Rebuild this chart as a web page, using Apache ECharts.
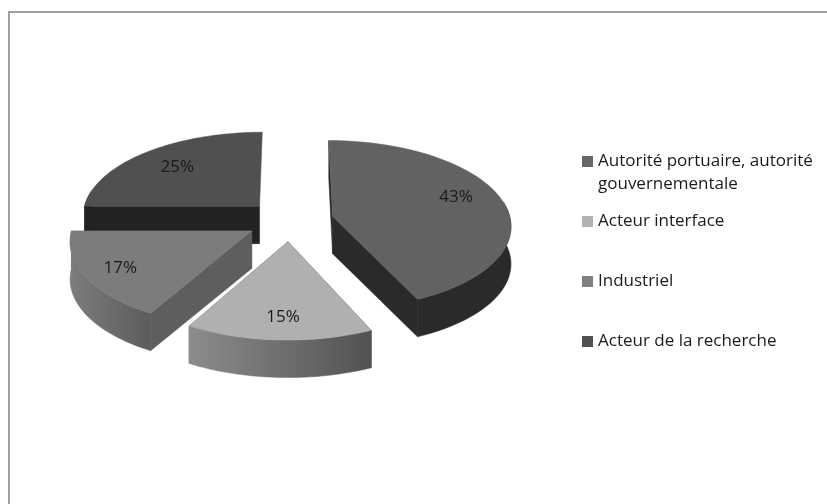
<!DOCTYPE html>
<html>
<head>
<meta charset="utf-8">
<style>
html, body { margin: 0; padding: 0; background: #fff; }
#chart { width: 827px; height: 504px; }
</style>
<script src="https://cdn.jsdelivr.net/npm/echarts@6/dist/echarts.min.js"></script>
</head>
<body>
<div id="chart"></div>
<script>
// donnees du graphique
const categories = ['Autorité portuaire, autorité\ngouvernementale', 'Acteur interface', 'Industriel', 'Acteur de la recherche'];
const values = [43.2, 15, 16.8, 25];
const topColors = ['#626262', '#b0b0b0', '#7c7c7c', '#505050'];
const legendColors = ['#666666', '#b2b2b2', '#808080', '#505050'];

// projection du camembert 3D
const cx = 290, cy = 220.5;   // centre
const radiusX = 178, radiusY = 84, depth = 10;
const explode = 0.246;
const wallHeight = 37.5;
const labelFrac = [0.74, 0.78, 0.8, 0.72];
const labelNudge = [[-2, -6], [2, 1], [0, 1], [1, 0]];

const total = values.reduce((a, b) => a + b, 0);

function project(x, y) {
    const s = 1 / (1 + y / depth);
    return [cx + x * radiusX * s, cy - y * radiusY * s];
}

function drop(p) {
    return [p[0], p[1] + wallHeight];
}

function hGradient(left, right) {
    return new echarts.graphic.LinearGradient(0, 0, 1, 0, [
        { offset: 0, color: left },
        { offset: 1, color: right }
    ]);
}

// couleurs des parois : radiales et arc
const wallStyles = [
    { radial: () => '#2a2a2a', arc: () => '#2a2a2a' },
    { radial: () => '#555555', arc: () => hGradient('#8c8c8c', '#525252') },
    { radial: () => '#5e5e5e', arc: () => hGradient('#7c7c7c', '#5c5c5c') },
    { radial: () => '#222222', arc: () => '#222222' }
];

function renderSlice(index) {
    return function (params, api) {
        const value = api.value(0);
        let before = 0;
        for (let i = 0; i < index; i++) before += values[i];
        const a0 = before / total * Math.PI * 2;
        const a1 = (before + value) / total * Math.PI * 2;
        const mid = (a0 + a1) / 2;
        const ox = Math.sin(mid) * explode;
        const oy = Math.cos(mid) * explode;

        const apex = project(ox, oy);
        const arc = [];
        const frontArc = [];   // seule la partie avant de l'arc a une paroi visible
        const steps = 60;
        for (let i = 0; i <= steps; i++) {
            const a = a0 + (a1 - a0) * i / steps;
            const p = project(ox + Math.sin(a), oy + Math.cos(a));
            arc.push(p);
            if (Math.cos(a) < 0.2) frontArc.push(p);
        }
        const first = arc[0];
        const last = arc[arc.length - 1];
        const wall = wallStyles[index];
        const f = labelFrac[index];
        const lp = project(ox + Math.sin(mid) * f, oy + Math.cos(mid) * f);

        const poly = (points, fill) => ({
            type: 'polygon',
            shape: { points: points },
            style: { fill: fill, stroke: fill, lineWidth: 0.5 }
        });

        const children = [poly([apex, first, drop(first), drop(apex)], wall.radial())];
        // la paroi a 360 degres ne se voit pas sur l'original
        if (index < values.length - 1) {
            children.push(poly([apex, last, drop(last), drop(apex)], wall.radial()));
        }
        if (frontArc.length > 1) {
            children.push(poly(frontArc.concat(frontArc.slice().reverse().map(drop)), wall.arc()));
        }
        children.push(poly([apex].concat(arc), topColors[index]));
        children.push({
            type: 'text',
            style: {
                x: lp[0] + labelNudge[index][0],
                y: lp[1] + labelNudge[index][1],
                text: Math.round(value / total * 100) + '%',
                fill: '#1a1a1a',
                font: '17px "Open Sans"',
                align: 'center',
                verticalAlign: 'middle'
            }
        });

        return { type: 'group', children: children };
    };
}

// ordre de dessin : du fond vers l'avant
const drawOrder = [3, 0, 2, 1];

const chart = echarts.init(document.getElementById('chart'), null, { renderer: 'canvas' });

chart.setOption({
    animation: false,
    backgroundColor: '#ffffff',
    legend: {
        orient: 'vertical',
        left: 577,
        top: 122,
        itemGap: -9,
        itemWidth: 11,
        itemHeight: 11,
        icon: 'rect',
        selectedMode: false,
        data: categories,
        formatter: (name) => {
            const lines = name.split('\n');
            return '\u00a0\n' + lines[0] + '\n' + (lines[1] || '\u00a0');
        },
        textStyle: {
            color: '#1a1a1a',
            fontFamily: 'Open Sans',
            fontSize: 17,
            lineHeight: 23
        }
    },
    graphic: [
        { type: 'line', silent: true, shape: { x1: 8, y1: 12, x2: 827, y2: 12 }, style: { stroke: '#a0a0a0', lineWidth: 2 } },
        { type: 'line', silent: true, shape: { x1: 9, y1: 12, x2: 9, y2: 504 }, style: { stroke: '#a0a0a0', lineWidth: 2 } }
    ],
    series: drawOrder.map((i) => ({
        type: 'custom',
        name: categories[i],
        coordinateSystem: 'none',
        silent: true,
        itemStyle: { color: legendColors[i] },
        data: [[values[i]]],
        renderItem: renderSlice(i)
    }))
});
</script>
</body>
</html>
